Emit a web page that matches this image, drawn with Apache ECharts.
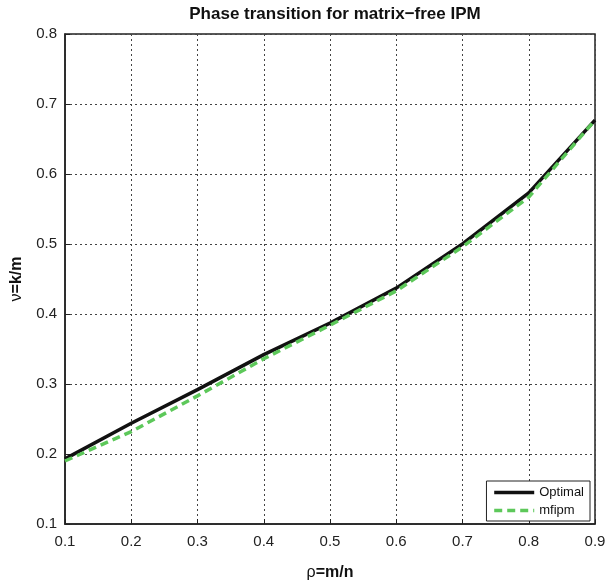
<!DOCTYPE html>
<html>
<head>
<meta charset="utf-8">
<script src="https://cdn.jsdelivr.net/npm/echarts@6/dist/echarts.min.js"></script>
<style>
html, body { margin: 0; padding: 0; background: #fff; }
#chart { width: 610px; height: 582px; }
</style>
</head>
<body>
<div id="chart"></div>
<script>
// rho = m/n
var rho = [0.1, 0.2, 0.3, 0.4, 0.5, 0.6, 0.7, 0.8, 0.9];
// nu = k/m
var optimal = [0.193, 0.244, 0.292, 0.342, 0.387, 0.437, 0.500, 0.573, 0.677];
var mfipm   = [0.190, 0.232, 0.283, 0.336, 0.384, 0.433, 0.496, 0.567, 0.677];

function pairs(ys) {
    return rho.map(function (x, i) { return [x, ys[i]]; });
}

var font = 'Liberation Sans, Arial, Helvetica, sans-serif';

var chart = echarts.init(document.getElementById('chart'));
chart.setOption({
    animation: false,
    backgroundColor: '#fff',
    title: {
        text: 'Phase transition for matrix\u2212free IPM',
        left: 330,
        textAlign: 'center',
        top: 1,
        textStyle: { fontFamily: font, fontSize: 17, fontWeight: 'bold', color: '#111' }
    },
    grid: {
        left: 65, right: 15, top: 34, bottom: 58,
        outerBoundsMode: 'none',
        containLabel: false,
        show: true, borderColor: '#222', borderWidth: 1.5,
        backgroundColor: 'transparent'
    },
    legend: {
        right: 20, bottom: 61,
        orient: 'vertical',
        itemWidth: 40, itemHeight: 10, itemGap: 5,
        padding: [5, 6, 4, 6],
        backgroundColor: '#fff',
        borderColor: '#222', borderWidth: 1,
        itemStyle: { opacity: 0 },
        lineStyle: { width: 3.5 },
        textStyle: { fontFamily: font, fontSize: 13, color: '#111' },
        data: ['Optimal', 'mfipm']
    },
    xAxis: {
        type: 'value', min: 0.1, max: 0.9, interval: 0.1,
        name: '{n|\u03c1}{b|=m/n}', nameLocation: 'middle', nameGap: 41,
        nameTextStyle: {
            rich: {
                n: { fontFamily: font, fontSize: 16, color: '#111' },
                b: { fontFamily: font, fontSize: 16, fontWeight: 'bold', color: '#111' }
            }
        },
        axisLine: { show: true, lineStyle: { color: '#222', width: 1.5 } },
        axisTick: { show: true, inside: true, length: 5, lineStyle: { color: '#222' } },
        axisLabel: {
            fontFamily: font, fontSize: 15, color: '#222', margin: 10,
            formatter: function (v) { return v.toFixed(1); }
        },
        splitLine: { show: true, lineStyle: { color: '#444', type: [2, 3], width: 1 } }
    },
    yAxis: {
        type: 'value', min: 0.1, max: 0.8, interval: 0.1,
        name: '{n|\u03bd}{b|=k/m}', nameLocation: 'middle', nameGap: 40,
        nameTextStyle: {
            rich: {
                n: { fontFamily: font, fontSize: 16, color: '#111' },
                b: { fontFamily: font, fontSize: 16, fontWeight: 'bold', color: '#111' }
            }
        },
        axisLine: { show: true, lineStyle: { color: '#222', width: 1.5 } },
        axisTick: { show: true, inside: true, length: 5, lineStyle: { color: '#222' } },
        axisLabel: {
            fontFamily: font, fontSize: 15, color: '#222', margin: 8,
            formatter: function (v) { return v.toFixed(1); }
        },
        splitLine: { show: true, lineStyle: { color: '#444', type: [2, 3], width: 1 } }
    },
    series: [
        {
            name: 'Optimal',
            type: 'line',
            data: pairs(optimal),
            showSymbol: false,
            symbol: 'none',
            lineStyle: { color: '#111', width: 3.5 },
            itemStyle: { color: '#111' },
            z: 3
        },
        {
            name: 'mfipm',
            type: 'line',
            data: pairs(mfipm),
            showSymbol: false,
            symbol: 'none',
            lineStyle: { color: '#5dc85a', width: 3.5, type: [8, 5] },
            itemStyle: { color: '#5dc85a' },
            z: 4
        }
    ]
});
</script>
</body>
</html>
